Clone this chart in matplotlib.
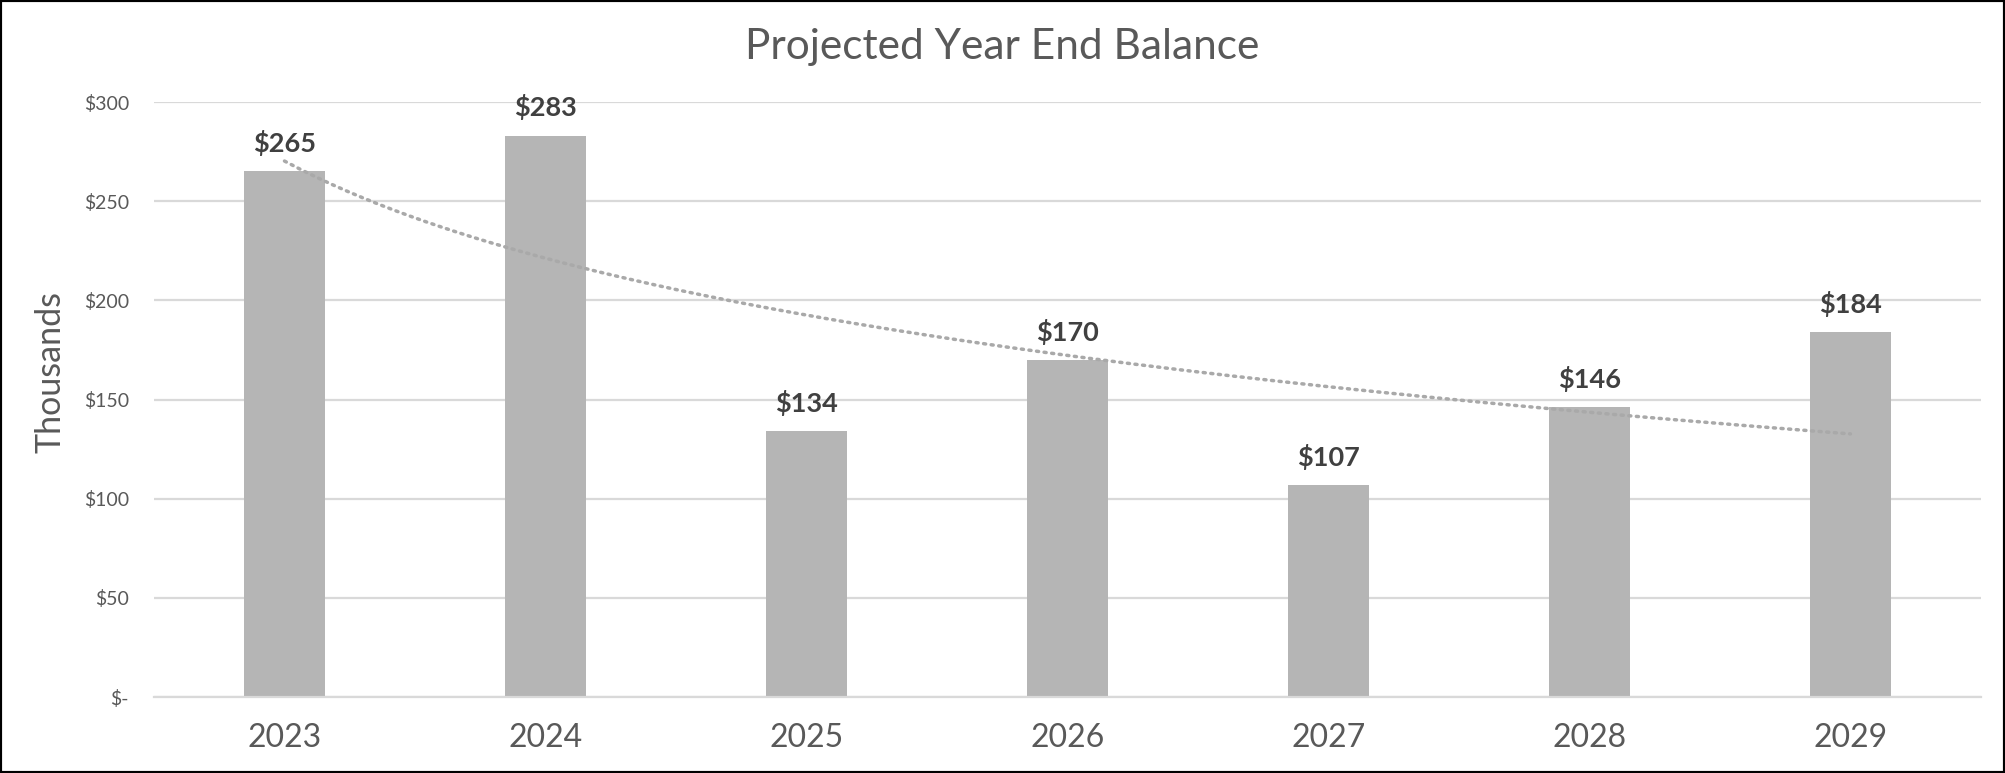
import matplotlib.pyplot as plt
import numpy as np
from matplotlib.patches import Rectangle
from matplotlib.ticker import FuncFormatter

years = ['2023', '2024', '2025', '2026', '2027', '2028', '2029']
balance = [265, 283, 134, 170, 107, 146, 184]
y_ticks = [0, 50, 100, 150, 200, 250, 300]


def money(value, pos=None):
    return '$-' if value == 0 else f'${value:.0f}'


def log_trend(values):
    x = np.arange(1, len(values) + 1)
    b, a = np.polyfit(np.log(x), values, 1)
    x_fine = np.linspace(1, len(values), 200)
    return x_fine - 1, a + b * np.log(x_fine)


plt.rcParams['font.family'] = ['Lato', 'DejaVu Sans']

fig = plt.figure(figsize=(20.05, 7.73), dpi=100)
ax = fig.add_axes([0.0768, 0.0983, 0.9112, 0.7697])

pos = np.arange(len(years))
ax.bar(pos, balance, width=0.31, color='#b5b5b5', zorder=2)

for x, v in zip(pos, balance):
    ax.annotate(money(v), (x, v), xytext=(0, 11), textcoords='offset points',
                ha='center', va='bottom', fontsize=19.5, fontweight='bold',
                color='#404040', clip_on=False)

tx, ty = log_trend(balance)
ax.plot(tx, ty, linestyle=(0, (0.6, 1.6)), color='#a9a9a9', linewidth=2.5,
        dash_capstyle='round', zorder=3)

ax.set_xlim(-0.5, len(years) - 0.5)
ax.set_ylim(0, 300)
ax.set_xticks(pos)
ax.set_xticklabels(years)
ax.set_yticks(y_ticks)
ax.yaxis.set_major_formatter(FuncFormatter(money))
ax.tick_params(axis='x', length=0, pad=19, labelsize=23, labelcolor='#595959')
ax.tick_params(axis='y', length=0, pad=18, labelsize=14, labelcolor='#595959')
ax.grid(axis='y', color='#d9d9d9', linewidth=1.6, zorder=0)
ax.set_axisbelow(True)
for side in ['top', 'right', 'left']:
    ax.spines[side].set_visible(False)
ax.spines['bottom'].set_color('#d9d9d9')
ax.spines['bottom'].set_linewidth(1.6)

fig.text(0.025, 0.519, 'Thousands', rotation=90, ha='center', va='center',
         fontsize=24.5, color='#595959')
fig.text(0.5, 0.939, 'Projected Year End Balance', ha='center', va='center',
         fontsize=30.5, color='#595959')

fig.patches.append(Rectangle((0, 0), 1, 1, transform=fig.transFigure,
                             fill=False, edgecolor='black', linewidth=3))

fig.savefig('out.png', dpi=100)
